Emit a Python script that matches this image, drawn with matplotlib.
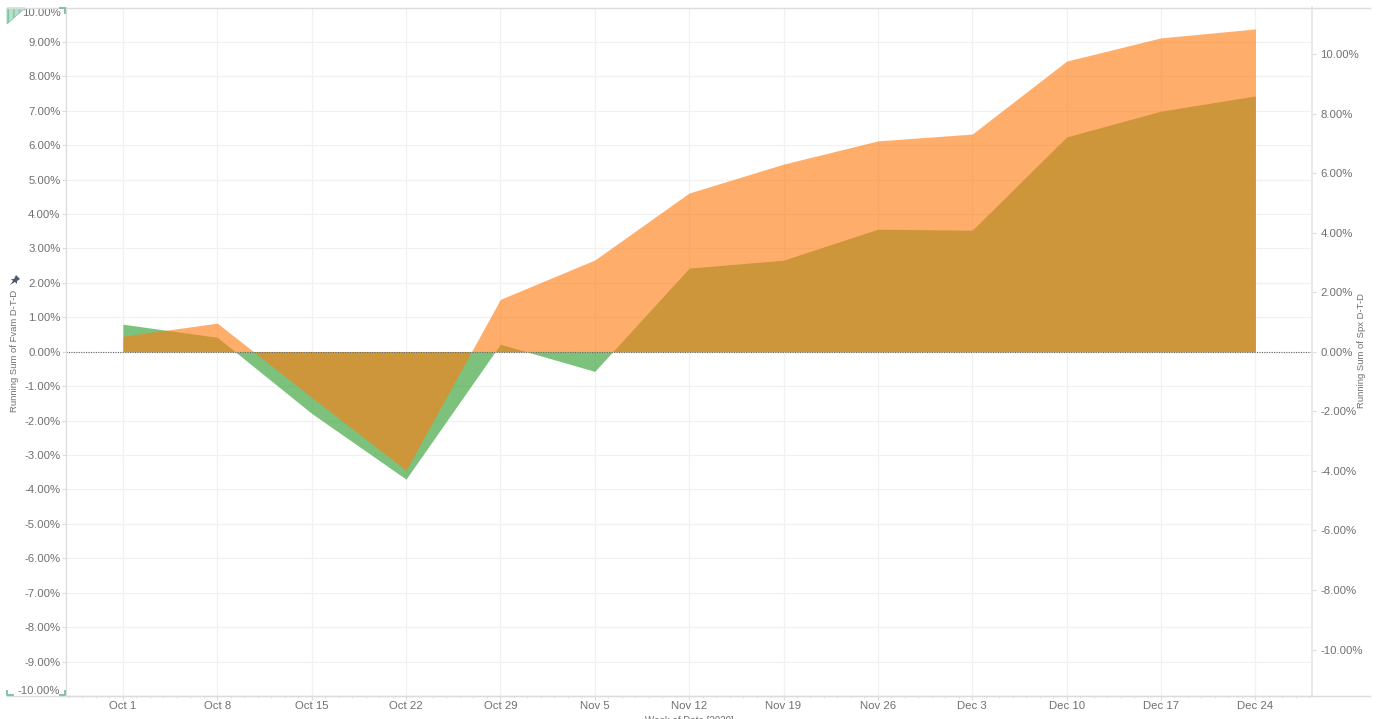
#! /usr/bin/env python3

from datetime import datetime, timedelta

import matplotlib

matplotlib.use("Agg")
import matplotlib.dates as mdates
import matplotlib.pyplot as plt
from matplotlib.lines import Line2D
from matplotlib.patches import Polygon

W, H = 1379, 719

week_labels = ["Oct 1", "Oct 8", "Oct 15", "Oct 22", "Oct 29", "Nov 5", "Nov 12",
               "Nov 19", "Nov 26", "Dec 3", "Dec 10", "Dec 17", "Dec 24"]
fvam = [0.80, 0.42, -1.79, -3.70, 0.22, -0.57, 2.43, 2.66, 3.56, 3.53, 6.24, 6.99, 7.43]
spx = [0.52, 0.96, -1.53, -3.98, 1.76, 3.08, 5.33, 6.30, 7.08, 7.31, 9.76, 10.54, 10.84]
left_ticks = list(range(-10, 11))
right_ticks = list(range(-10, 11, 2))

TXT = "#707070"
GRID = "#f1f1f1"
AXIS = "#dcdcdc"

plt.rcParams["font.family"] = ["Liberation Sans", "DejaVu Sans"]
plt.rcParams["font.size"] = 8.2

dates = [datetime(2020, 10, 1) + timedelta(days=7 * i) for i in range(len(week_labels))]


def px(x, y):
    return x / W, 1 - y / H


fig = plt.figure(figsize=(W / 100, H / 100), dpi=100)
x0, y0 = px(66, 696)
x1, y1 = px(1312, 7.5)
ax = fig.add_axes([x0, y0, x1 - x0, y1 - y0])
ax2 = ax.twinx()

ax.fill_between(dates, fvam, 0, color="#50ad50", alpha=0.75, linewidth=0)
ax2.fill_between(dates, spx, 0, color="#ff7d14", alpha=0.63, linewidth=0)

ax.set_xlim(dates[0] - timedelta(days=4.22), dates[-1] + timedelta(days=4.2))
ax.set_ylim(-10, 10)
ax2.set_ylim(-11.56, 11.56)

ax.set_xticks(dates)
ax.set_xticklabels(week_labels)
ax.xaxis.set_minor_locator(mdates.DayLocator())
ax.tick_params(axis="x", which="major", length=3, width=0.8, color=AXIS, labelcolor=TXT, pad=0.8)
ax.tick_params(axis="x", which="minor", length=1.5, width=0.6, color=AXIS)

ax.set_yticks(left_ticks)
ax.set_yticklabels([f"{v:.2f}%" for v in left_ticks])
ax.tick_params(axis="y", length=3, width=0.8, color=AXIS, labelcolor=TXT, pad=1)
ax.get_yticklabels()[0].set_verticalalignment("bottom")
ax.get_yticklabels()[-1].set_verticalalignment("top")

ax2.set_yticks(right_ticks)
ax2.set_yticklabels([f"{v:.2f}%" for v in right_ticks])
ax2.tick_params(axis="y", length=3, width=0.8, color=AXIS, labelcolor=TXT, pad=3)

ax.grid(True, which="major", color=GRID, linewidth=0.9)
ax.set_axisbelow(True)
ax2.axhline(0, color="#666666", linewidth=0.8, linestyle=(0, (1, 1.2)))

for a in (ax, ax2):
    a.patch.set_visible(False)
    a.spines["top"].set_visible(False)
    a.spines["bottom"].set_color(AXIS)
    a.spines["left"].set_color(AXIS)
    a.spines["right"].set_color("#e8e8e8")
    a.spines["right"].set_linewidth(1.3)

# header lines run past the plot on both sides
for y in (7.5, 696):
    xa, ya = px(7, y)
    xb, _ = px(1370, y)
    fig.add_artist(Line2D([xa, xb], [ya, ya], color=AXIS, linewidth=1))

fig.text(*px(15, 351), "Running Sum of Fvam D-T-D", rotation=90, color=TXT,
         ha="center", va="center", fontsize=6.8)
fig.text(*px(1362, 350), "Running Sum of Spx D-T-D", rotation=90, color=TXT,
         ha="center", va="center", fontsize=6.8)
# sits on the bottom edge of the picture, only its top shows
fig.text(*px(689, 715.5), "Week of Date [2020]", color=TXT, ha="center", va="top", fontsize=7)

# pin icon
pin = [(10, 285), (13, 281), (11, 279), (14, 279), (16, 275), (20, 279), (17, 281), (17, 284),
       (15, 282)]
fig.add_artist(Polygon([px(*p) for p in pin], closed=True, transform=fig.transFigure,
                       facecolor="#4e5a6b", edgecolor="none"))

# size handle corners
GREEN = "#7fc4a5"
fig.add_artist(Polygon([px(7, 8), px(25, 8), px(7, 24)], closed=True, transform=fig.transFigure,
                       facecolor="#b5dfca", edgecolor=GREEN, linewidth=0.5, hatch="|||"))
corners = [
    [(7, 691), (7, 695), (13, 695)],
    [(60, 695), (65, 695), (65, 691)],
    [(60, 8), (65, 8), (65, 13)],
]
for pts in corners:
    xs, ys = zip(*[px(*p) for p in pts])
    fig.add_artist(Line2D(xs, ys, color=GREEN, linewidth=1.4))

fig.savefig("out.png", dpi=100)
